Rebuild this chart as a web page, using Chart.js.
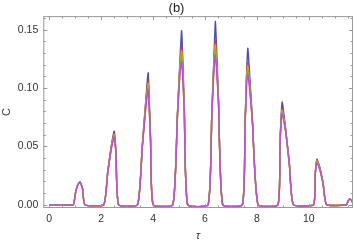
<!DOCTYPE html>
<html>
<head>
<meta charset="utf-8">
<script src="https://cdn.jsdelivr.net/npm/chart.js@4"></script>
<style>
  html, body { margin: 0; padding: 0; background: #fff; }
</style>
</head>
<body>
<canvas id="chart" width="354" height="243"></canvas>
<script>
// tau values (shared by all series)
const tau = [0,
  0.92, 1.00, 1.08, 1.18, 1.28, 1.37,
  2.10, 2.25, 2.40, 2.50, 2.57, 2.67,
  3.40, 3.58, 3.72, 3.81, 3.90, 4.00,
  4.76, 4.93, 5.03, 5.10, 5.20, 5.33,
  6.12, 6.26, 6.35, 6.40, 6.52, 6.68,
  7.44, 7.54, 7.60, 7.65, 7.82, 8.04,
  8.81, 8.89, 8.97, 9.10, 9.25, 9.40,
  10.18, 10.25, 10.31, 10.42, 10.55, 10.68,
  11.45, 11.51, 11.57, 11.64, 11.70];

const blueC = [0,
  0, 0.009, 0.016, 0.0198, 0.014, 0,
  0, 0.028, 0.052, 0.063, 0.045, 0,
  0, 0.050, 0.090, 0.113, 0.058, 0,
  0, 0.075, 0.122, 0.149, 0.085, 0,
  0, 0.078, 0.130, 0.157, 0.090, 0,
  0, 0.068, 0.112, 0.134, 0.075, 0,
  0, 0.055, 0.088, 0.066, 0.035, 0,
  0, 0.028, 0.039, 0.032, 0.018, 0,
  0, 0.003, 0.005, 0.004, 0.001];

const redC = [0,
  0, 0.009, 0.016, 0.0196, 0.014, 0,
  0, 0.028, 0.051, 0.061, 0.044, 0,
  0, 0.049, 0.088, 0.106, 0.057, 0,
  0, 0.074, 0.119, 0.136, 0.083, 0,
  0, 0.077, 0.127, 0.141, 0.088, 0,
  0, 0.067, 0.110, 0.122, 0.074, 0,
  0, 0.054, 0.083, 0.065, 0.035, 0,
  0, 0.028, 0.038, 0.032, 0.018, 0,
  0, 0.003, 0.005, 0.004, 0.001];

const orangeC = [0,
  0, 0.009, 0.016, 0.0196, 0.014, 0,
  0, 0.027, 0.050, 0.060, 0.044, 0,
  0, 0.049, 0.087, 0.104, 0.056, 0,
  0, 0.073, 0.117, 0.132, 0.082, 0,
  0, 0.076, 0.125, 0.137, 0.087, 0,
  0, 0.066, 0.108, 0.119, 0.073, 0,
  0, 0.054, 0.081, 0.064, 0.034, 0,
  0, 0.027, 0.0375, 0.031, 0.018, 0,
  0, 0.003, 0.005, 0.004, 0.001];

const greenC = [0,
  0, 0.009, 0.016, 0.0196, 0.014, 0,
  0, 0.027, 0.050, 0.059, 0.043, 0,
  0, 0.048, 0.085, 0.102, 0.056, 0,
  0, 0.073, 0.114, 0.128, 0.081, 0,
  0, 0.076, 0.122, 0.133, 0.086, 0,
  0, 0.066, 0.106, 0.116, 0.073, 0,
  0, 0.053, 0.080, 0.064, 0.034, 0,
  0, 0.027, 0.037, 0.031, 0.018, 0,
  0, 0.003, 0.005, 0.004, 0.001];

const magentaC = [0,
  0, 0.009, 0.0158, 0.0195, 0.014, 0,
  0, 0.027, 0.049, 0.058, 0.043, 0,
  0, 0.048, 0.083, 0.099, 0.055, 0,
  0, 0.072, 0.111, 0.123, 0.080, 0,
  0, 0.075, 0.119, 0.128, 0.085, 0,
  0, 0.065, 0.103, 0.112, 0.072, 0,
  0, 0.053, 0.078, 0.063, 0.034, 0,
  0, 0.027, 0.036, 0.030, 0.017, 0,
  0, 0.003, 0.005, 0.004, 0.001];

const xTicks = [0, 2, 4, 6, 8, 10];
const yTicks = [0, 0.05, 0.10, 0.15];

const toPoints = (ys) => tau.map((t, i) => ({ x: t, y: ys[i] }));

// frame with inward ticks on all four sides (Mathematica style)
const frameTicks = {
    id: 'frameTicks',
    afterDatasetsDraw(chart) {
        const { ctx, chartArea: a, scales } = chart;
        const xs = scales.x, ys = scales.y;
        ctx.save();
        ctx.strokeStyle = '#9a9a9a';
        ctx.lineWidth = 1;
        ctx.strokeRect(a.left + 0.5, a.top + 0.5, a.right - a.left - 1, a.bottom - a.top - 1);
        ctx.beginPath();
        for (let v = 0; v <= 11.5; v += 0.5) {
            const px = Math.round(xs.getPixelForValue(v)) + 0.5;
            const len = (v % 2 === 0) ? 4 : 2.5;
            ctx.moveTo(px, a.bottom); ctx.lineTo(px, a.bottom - len);
            ctx.moveTo(px, a.top); ctx.lineTo(px, a.top + len);
        }
        for (let k = 0; k <= 16; k++) {
            const py = Math.round(ys.getPixelForValue(k * 0.01)) + 0.5;
            const len = (k % 5 === 0) ? 4 : 2.5;
            ctx.moveTo(a.left, py); ctx.lineTo(a.left + len, py);
            ctx.moveTo(a.right, py); ctx.lineTo(a.right - len, py);
        }
        ctx.stroke();
        ctx.restore();
    }
};

const lineSet = (ys, color) => ({
    data: toPoints(ys),
    borderColor: color,
    backgroundColor: color,
    borderWidth: 1.4,
    pointRadius: 0,
    tension: 0.15,
    fill: false
});

new Chart(document.getElementById('chart'), {
    type: 'line',
    data: {
        // first dataset is drawn on top
        datasets: [
            lineSet(magentaC, '#c44ad8'),
            lineSet(greenC, '#78c030'),
            lineSet(orangeC, '#dca030'),
            lineSet(redC, '#e33a2a'),
            lineSet(blueC, '#4a50b0')
        ]
    },
    options: {
        responsive: false,
        animation: false,
        devicePixelRatio: 1,
        layout: { padding: { left: 0, right: 1, top: 0, bottom: 0 } },
        plugins: {
            legend: { display: false },
            tooltip: { enabled: false },
            title: {
                display: true,
                text: '(b)',
                color: '#222',
                font: { family: 'Liberation Sans', size: 13, weight: 'normal' },
                padding: { top: 0.5, bottom: 0 }
            }
        },
        scales: {
            x: {
                type: 'linear',
                min: -0.23,
                max: 11.7,
                grid: { display: false, drawTicks: false },
                border: { display: false },
                afterBuildTicks: (s) => { s.ticks = xTicks.map(v => ({ value: v })); },
                afterFit: (s) => { s.height = 35; },
                ticks: {
                    padding: 5,
                    color: '#333',
                    maxRotation: 0,
                    font: { family: 'Liberation Sans', size: 10.5 },
                    callback: (v) => String(v)
                },
                title: {
                    display: true,
                    text: 'τ',
                    color: '#333',
                    padding: { top: 0, bottom: 0 },
                    font: { family: 'Liberation Sans', size: 11, style: 'italic' }
                }
            },
            y: {
                min: -0.0028,
                max: 0.1616,
                grid: { display: false, drawTicks: false },
                border: { display: false },
                afterBuildTicks: (s) => { s.ticks = yTicks.map(v => ({ value: v })); },
                afterFit: (s) => { s.width = 43.3; },
                ticks: {
                    padding: 5,
                    color: '#333',
                    font: { family: 'Liberation Sans', size: 10.5 },
                    callback: (v) => v.toFixed(2)
                },
                title: {
                    display: true,
                    text: 'C',
                    color: '#333',
                    padding: { top: 0, bottom: 0 },
                    font: { family: 'Liberation Sans', size: 11 }
                }
            }
        }
    },
    plugins: [frameTicks]
});
</script>
</body>
</html>
